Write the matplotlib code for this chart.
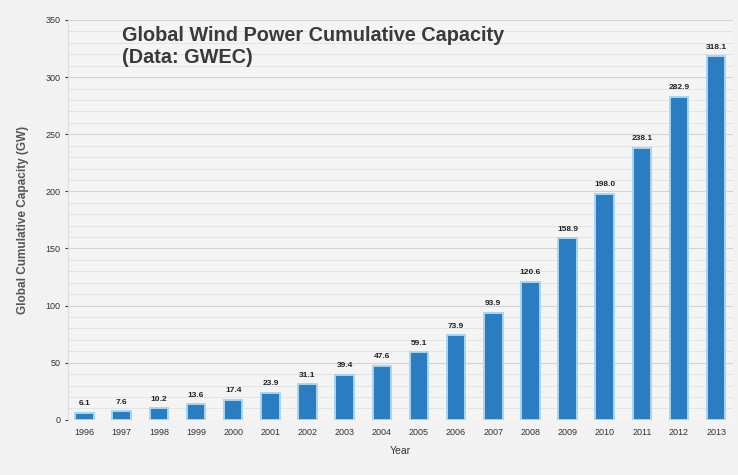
import numpy as np
import matplotlib.pyplot as plt
from matplotlib.ticker import MultipleLocator

years = ['1996', '1997', '1998', '1999', '2000', '2001', '2002', '2003', '2004',
         '2005', '2006', '2007', '2008', '2009', '2010', '2011', '2012', '2013']
capacity = [6.1, 7.6, 10.2, 13.6, 17.4, 23.9, 31.1, 39.4, 47.6,
            59.1, 73.9, 93.9, 120.6, 158.9, 198.0, 238.1, 282.9, 318.1]

plt.rcParams['font.family'] = ['Liberation Sans', 'DejaVu Sans']

fig = plt.figure(figsize=(7.38, 4.75), dpi=100)
fig.patch.set_facecolor('#f2f2f2')
ax = fig.add_axes([0.092, 0.116, 0.901, 0.842])
ax.set_facecolor('#f4f4f4')

x = np.arange(len(years))
ax.bar(x, capacity, width=0.5, color='#2a7dc0', edgecolor='#a8d6f2',
       linewidth=1.4, zorder=3)
for xi, v in zip(x, capacity):
    ax.text(xi, v + 5, f'{v:.1f}', ha='center', va='bottom', fontsize=6,
            fontweight='bold', color='#222222', zorder=4)

ax.set_xlim(-0.45, 17.45)
ax.set_ylim(0, 350)
ax.set_xticks(x)
ax.set_xticklabels(years, fontsize=6.5, color='#333333')
ax.yaxis.set_major_locator(MultipleLocator(50))
ax.yaxis.set_minor_locator(MultipleLocator(10))
ax.tick_params(axis='y', labelsize=6.5, colors='#333333', length=2)
ax.tick_params(axis='x', length=0, pad=6)
ax.tick_params(axis='y', which='minor', length=0)
ax.grid(axis='y', which='major', color='#d4d4d4', linewidth=0.8, zorder=0)
ax.grid(axis='y', which='minor', color='#e2e2e2', linewidth=0.6, zorder=0)
for side in ['top', 'right', 'bottom']:
    ax.spines[side].set_visible(False)
ax.spines['left'].set_color('#dddddd')

ax.set_xlabel('Year', fontsize=7.5, color='#333333', labelpad=6)
ax.set_ylabel('Global Cumulative Capacity (GW)', fontsize=8.5, fontweight='bold',
              color='#555555', labelpad=12)

ax.text(0.081, 0.985, 'Global Wind Power Cumulative Capacity\n(Data: GWEC)',
        transform=ax.transAxes, ha='left', va='top', fontsize=14.3,
        fontweight='bold', color='#3a3a3a', linespacing=1.2, zorder=5)

fig.savefig('out.png', dpi=100, facecolor=fig.get_facecolor())
